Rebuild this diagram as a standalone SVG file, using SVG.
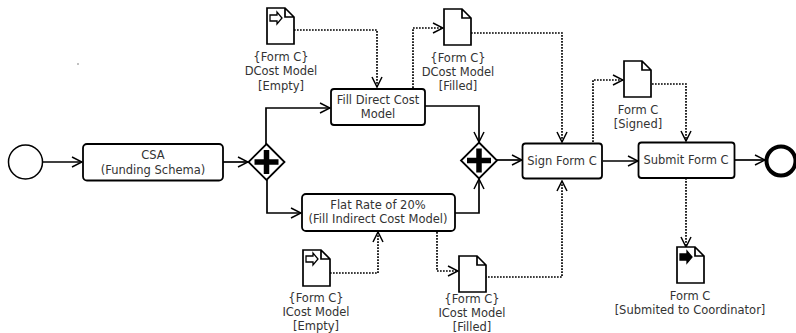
<svg xmlns="http://www.w3.org/2000/svg" width="796" height="333" viewBox="0 0 796 333">
<style>
text{font-family:"DejaVu Sans",sans-serif;font-size:11.5px;fill:#333;text-anchor:middle}
.t{fill:#fff;stroke:#000;stroke-width:1.8}
.doc{fill:#fff;stroke:#000;stroke-width:1.7}
.flow{fill:none;stroke:#000;stroke-width:1.7}
.dot{fill:none;stroke:#000;stroke-width:1.7;stroke-dasharray:1.7 1.3}
</style>
<defs>
<marker id="a" viewBox="0 0 12 12" refX="11" refY="6" markerWidth="12" markerHeight="12" markerUnits="userSpaceOnUse" orient="auto"><path d="M1 1L11 6L1 11" fill="none" stroke="#000" stroke-width="1.5"/></marker>
<g id="gw"><path d="M0-18L18 0L0 18L-18 0Z" fill="#fff" stroke="#000" stroke-width="1.8"/><path d="M-12 0H12M0-12V12" stroke="#000" stroke-width="5.5" fill="none"/></g>
<path id="d" class="doc" d="M0 0H18L27 9V36H0ZM18 0V9H27"/>
</defs>
<circle cx="78" cy="64" r="0.7" fill="#555"/>
<g id="connectors">
<path class="flow" marker-end="url(#a)" d="M43 162H82"/>
<path class="flow" marker-end="url(#a)" d="M223 162H248"/>
<path class="flow" marker-end="url(#a)" d="M266 145V108H330"/>
<path class="flow" marker-end="url(#a)" d="M267 180V213H301"/>
<path class="flow" marker-end="url(#a)" d="M425 106H479V142"/>
<path class="flow" marker-end="url(#a)" d="M455 213H479V179"/>
<path class="flow" marker-end="url(#a)" d="M497 160H522"/>
<path class="flow" marker-end="url(#a)" d="M603 161H638"/>
<path class="flow" marker-end="url(#a)" d="M735 160H765"/>
<path class="dot" marker-end="url(#a)" d="M294 30H377V87"/>
<path class="dot" marker-end="url(#a)" d="M413 88V28H443"/>
<path class="dot" marker-end="url(#a)" d="M471 33H562V142"/>
<path class="dot" marker-end="url(#a)" d="M593 142V80H623"/>
<path class="dot" marker-end="url(#a)" d="M652 84H686V141"/>
<path class="dot" marker-end="url(#a)" d="M330 273H378V232"/>
<path class="dot" marker-end="url(#a)" d="M437 232V271H458"/>
<path class="dot" marker-end="url(#a)" d="M485 277H562V181"/>
<path class="dot" marker-end="url(#a)" d="M686 178V247"/>
</g>
<g id="start"><circle cx="25.500" cy="162" r="17" fill="#fff" stroke="#000" stroke-width="1.5"/></g>
<g id="csa"><rect class="t" x="83" y="144" width="140" height="36.500" rx="4"/><text x="153" y="159">CSA</text><text x="153" y="173.500">(Funding Schema)</text></g>
<g id="gw1"><use href="#gw" x="266.500" y="162"/></g>
<g id="gw2"><use href="#gw" x="479" y="160.500"/></g>
<g id="fill-direct"><rect class="t" x="331" y="89" width="94" height="36" rx="3"/><text x="378" y="104">Fill Direct Cost</text><text x="378" y="118">Model</text></g>
<g id="flat-rate"><rect class="t" x="302" y="194" width="153" height="37" rx="4"/><text x="378" y="209">Flat Rate of 20%</text><text x="378" y="223">(Fill Indirect Cost Model)</text></g>
<g id="sign"><rect class="t" x="522.500" y="143.500" width="79.500" height="35" rx="3"/><text x="562" y="165">Sign Form C</text></g>
<g id="submit"><rect class="t" x="638.500" y="142.500" width="96" height="35.500" rx="3"/><text x="686" y="164">Submit Form C</text></g>
<g id="end"><circle cx="781" cy="161" r="14.500" fill="#fff" stroke="#000" stroke-width="4"/></g>
<g id="doc-dcost-empty"><use href="#d" x="267" y="8"/><path d="M270 15H277V12L282 18L277 24V21H270Z" fill="#fff" stroke="#000" stroke-width="1.3"/><text x="281" y="61">{Form C}</text><text x="281" y="75">DCost Model</text><text x="281" y="90">[Empty]</text></g>
<g id="doc-dcost-filled"><use href="#d" x="444" y="9"/><text x="458" y="62">{Form C}</text><text x="458" y="76">DCost Model</text><text x="458" y="90">[Filled]</text></g>
<g id="doc-signed"><use href="#d" x="624" y="61"/><text x="638" y="114">Form C</text><text x="638" y="128">[Signed]</text></g>
<g id="doc-icost-empty"><use href="#d" x="303" y="250"/><path d="M306 256H313V253L318 259L313 265V262H306Z" fill="#fff" stroke="#000" stroke-width="1.3"/><text x="316" y="302">{Form C}</text><text x="316" y="316">ICost Model</text><text x="316" y="330">[Empty]</text></g>
<g id="doc-icost-filled"><use href="#d" x="459" y="256"/><text x="472" y="303">{Form C}</text><text x="472" y="317">ICost Model</text><text x="472" y="330.500">[Filled]</text></g>
<g id="doc-submitted"><use href="#d" x="677" y="247"/><path d="M680 254H687V251L692 257L687 263V260H680Z" fill="#000" stroke="#000" stroke-width="1.3"/><text x="690" y="300">Form C</text><text x="690" y="314">[Submited to Coordinator]</text></g>
</svg>
